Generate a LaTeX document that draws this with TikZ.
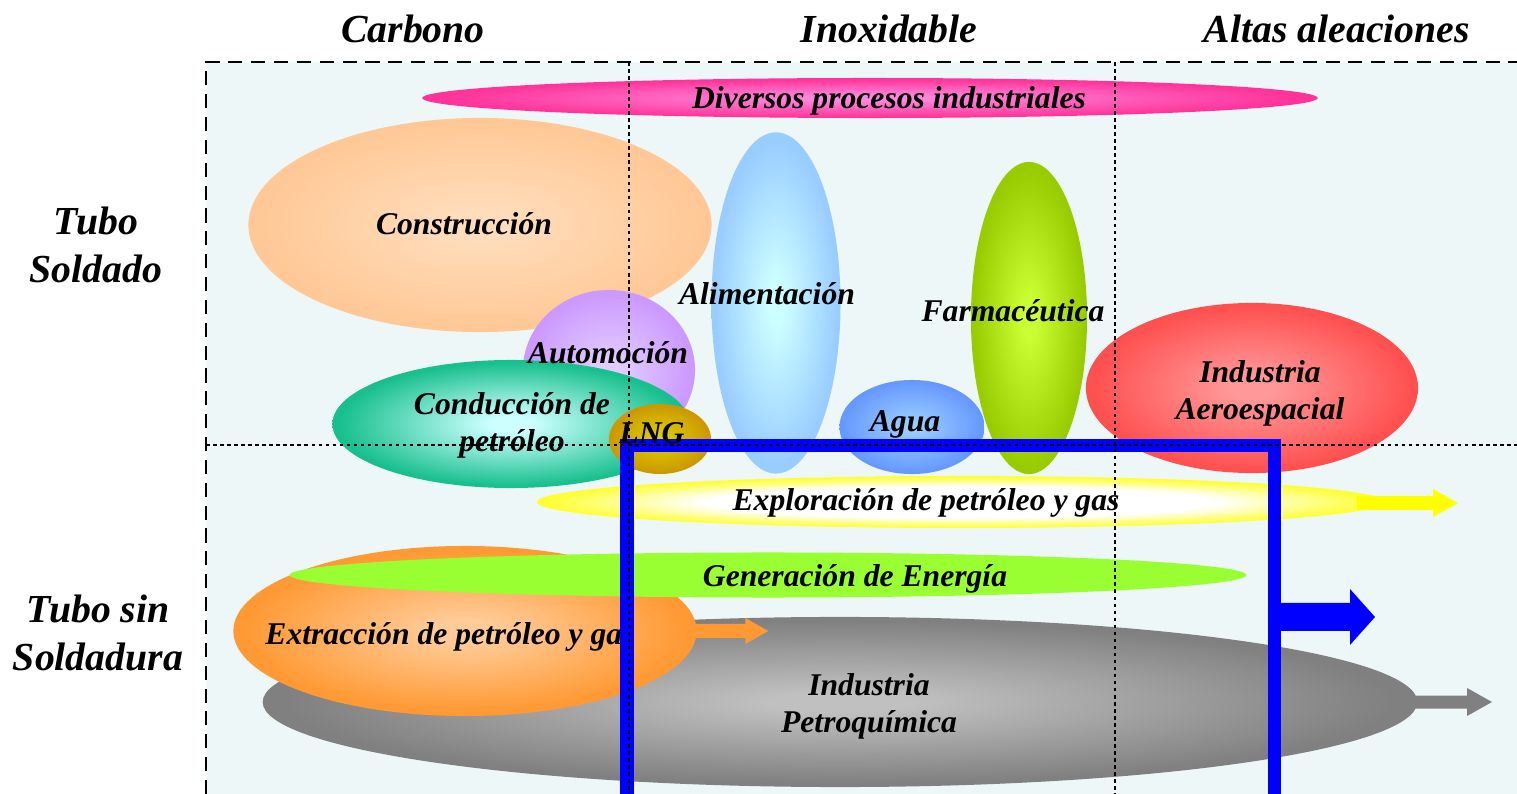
\documentclass[tikz,border=0pt]{standalone}
\usepackage{fontspec}
\setmainfont{Liberation Serif}
\usetikzlibrary{shapes.geometric,calc}
\colorlet{sbin}{white}
\colorlet{sbout}{black}
\pgfdeclareradialshading[sbin,sbout]{softball}{\pgfpoint{0bp}{0bp}}{color(0bp)=(sbin); color(3bp)=(sbin); color(24bp)=(sbout); color(50bp)=(sbout)}
\pgfdeclareradialshading[sbin,sbout]{rimball}{\pgfpoint{0bp}{0bp}}{color(0bp)=(sbin); color(15bp)=(sbin); color(27bp)=(sbout); color(50bp)=(sbout)}
\definecolor{bgcyan}{HTML}{EEF7F7}
\definecolor{pinkin}{HTML}{FF88DD}\definecolor{pinkout}{HTML}{FF3399}
\definecolor{peachin}{HTML}{FFDDBB}\definecolor{peachout}{HTML}{FFC896}
\definecolor{purpin}{HTML}{E2CCFF}\definecolor{purpout}{HTML}{CC99FF}
\definecolor{tealin}{HTML}{CCFFFF}\definecolor{tealout}{HTML}{19C08E}
\definecolor{goldin}{HTML}{DDCC00}\definecolor{goldout}{HTML}{CC9900}
\definecolor{skyin}{HTML}{CCFFFF}\definecolor{skyout}{HTML}{99CCFF}
\definecolor{bluein}{HTML}{99CCFF}\definecolor{blueout}{HTML}{6699FF}
\definecolor{limein}{HTML}{CCFF33}\definecolor{limeout}{HTML}{99CC00}
\definecolor{redin}{HTML}{FF9999}\definecolor{redout}{HTML}{FF5050}
\definecolor{yelin}{HTML}{FFFFFF}\definecolor{yelout}{HTML}{FFFF00}
\definecolor{genfill}{HTML}{99FF33}
\definecolor{orin}{HTML}{FFCC99}\definecolor{orout}{HTML}{FF9933}
\definecolor{greyin}{HTML}{C0C0C0}\definecolor{greyout}{HTML}{808080}
\definecolor{orarrow}{HTML}{FF9933}
\definecolor{greyarrow}{HTML}{808080}
\definecolor{framblue}{HTML}{0000FF}
\newcommand{\blockarrow}[6]{\fill[#1, shift={(#2)}] (0,-#4) -- (#3,-#4) -- (#3,-#6) -- ({#3+#5},0) -- (#3,#6) -- (#3,#4) -- (0,#4) -- cycle;}
\tikzset{
  blob/.style 2 args={ellipse, inner sep=0pt, draw=none, /utils/exec={\colorlet{sbin}{#1}\colorlet{sbout}{#2}}, shade, shading=softball},
  rimblob/.style 2 args={ellipse, inner sep=0pt, draw=none, /utils/exec={\colorlet{sbin}{#1}\colorlet{sbout}{#2}}, shade, shading=rimball},
  lab/.style={font=\fontsize{9}{10.5}\selectfont\bfseries\itshape, align=center, inner sep=0pt, text=black},
  head/.style={font=\fontsize{11.3}{13.7}\selectfont\bfseries\itshape, align=center, inner sep=0pt, text=black},
  frameline/.style={black, line width=0.4pt, dash pattern=on 4pt off 2.5pt},
  gridline/.style={black, line width=0.3pt, dash pattern=on 1pt off 1pt},
}
\begin{document}
\begin{tikzpicture}[x=0.01cm, y=-0.01cm]
\useasboundingbox (0,0) rectangle (1517,794);
\fill[white] (0,0) rectangle (1517,794);
\fill[bgcyan] (206,62) rectangle (1517,794);

% upper ellipses
\node[blob={pinkin}{pinkout}, minimum width=8.95cm, minimum height=0.40cm] (div) at (870,98) {};
\node[blob={peachin}{peachout}, minimum width=4.63cm, minimum height=2.14cm] (constr) at (480,225) {};
\node[blob={purpin}{purpout}, minimum width=1.72cm, minimum height=1.60cm] (auto) at (609,370) {};
\node[blob={tealin}{tealout}, minimum width=3.57cm, minimum height=1.28cm] (cond) at (511,424) {};
\node[blob={goldin}{goldout}, minimum width=1.02cm, minimum height=0.70cm] (lng) at (660,439) {};
\node[blob={skyin}{skyout}, minimum width=1.29cm, minimum height=3.41cm] (alim) at (776,303) {};
\node[blob={bluein}{blueout}, minimum width=1.45cm, minimum height=0.94cm] (agua) at (912,427) {};
\node[blob={limein}{limeout}, minimum width=1.16cm, minimum height=3.12cm] (farm) at (1029,318) {};
\node[blob={redin}{redout}, minimum width=3.32cm, minimum height=1.70cm] (aero) at (1252,388) {};

% lower ellipses
\node[rimblob={yelin}{yelout}, minimum width=8.48cm, minimum height=0.52cm] (expl) at (961,502) {};
\coordinate (explarr) at (1357,503);
\blockarrow{yelout}{explarr}{76}{7}{25}{14}

\node[blob={greyin}{greyout}, minimum width=11.54cm, minimum height=1.70cm] (petro) at (840,702) {};
\coordinate (petroarr) at ($(petro.east)+(-4,0)$);
\blockarrow{greyarrow}{petroarr}{53}{6.5}{25}{14}

\node[blob={orin}{orout}, minimum width=4.63cm, minimum height=1.70cm] (extr) at (465,631) {};
\coordinate (extrarr) at ($(extr.east)+(-2,0)$);
\blockarrow{orarrow}{extrarr}{50}{7}{23}{13}

\node[ellipse, inner sep=0pt, fill=genfill, minimum width=9.56cm, minimum height=0.45cm] (gen) at (768,575) {};

% labels
\node[lab] (tdiv) at (889,101) {Diversos procesos industriales};
\node[lab] (tconstr) at (464,224) {Construcción};
\node[lab] (talim) at (767,294) {Alimentación};
\node[lab] (tfarm) at (1013,311) {Farmacéutica};
\node[lab] (tauto) at (608,353) {Automoción};
\node[lab] (taero) at (1260,393) {Industria\\Aeroespacial};
\node[lab] (tcond) at (512,425) {Conducción de\\petróleo};
\node[lab] (tagua) at (905,424) {Agua};
\node[lab] (texpl) at (926,503) {Exploración de petróleo y gas};
\node[lab] (tgen) at (855,579) {Generación de Energía};
\node[lab] (textr) at (450,637) {Extracción de petróleo y gas};
\node[lab] (tpetro) at (869,706) {Industria\\Petroquímica};

% blue frame
\coordinate (bbl) at (627,800);
\coordinate (btl) at (627,445.5);
\coordinate (btr) at (1274,445.5);
\coordinate (bbr) at (1274,800);
\draw[framblue, line width=3.7pt, line join=miter] (bbl) -- (btl) -- (btr) -- (bbr);
\coordinate (barr) at (1279,617);
\blockarrow{framblue}{barr}{71}{14}{25}{28}
\node[lab] (tlng) at (652,433) {LNG};

% grid
\coordinate (g1t) at (629,62); \coordinate (g1b) at (629,794);
\coordinate (g2t) at (1115,62); \coordinate (g2b) at (1115,794);
\coordinate (ghl) at (206,445); \coordinate (ghr) at (1517,445);
\draw[gridline] (g1t) -- (g1b);
\draw[gridline] (g2t) -- (g2b);
\draw[gridline] (ghl) -- (ghr);
\coordinate (fbl) at (206,794); \coordinate (ftl) at (206,62); \coordinate (ftr) at (1517,62);
\draw[frameline] (fbl) -- (ftl) -- (ftr);

% headers
\node[head] (hcarb) at (413,29) {Carbono};
\node[head] (hinox) at (889,29) {Inoxidable};
\node[head] (halt) at (1337,29) {Altas aleaciones};
\node[head] (hsold) at (96,245) {Tubo\\Soldado};
\node[head] (hsin) at (98,633) {Tubo sin\\Soldadura};
\end{tikzpicture}
\end{document}
